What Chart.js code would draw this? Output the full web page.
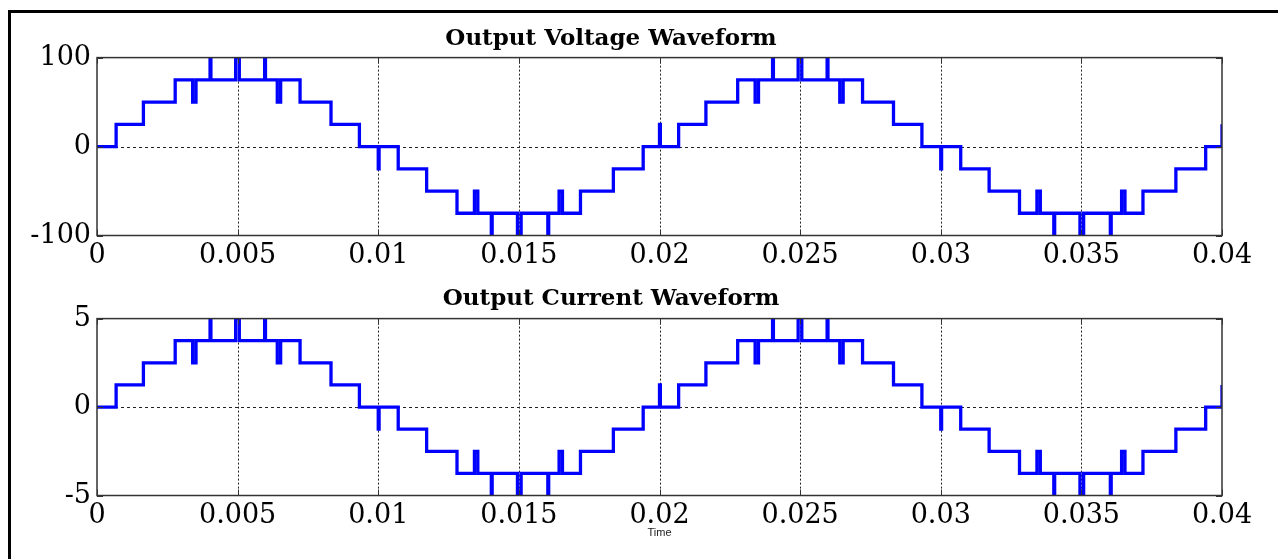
<!DOCTYPE html>
<html>
<head>
<meta charset="utf-8">
<script src="https://cdn.jsdelivr.net/npm/chart.js@4.4.1/dist/chart.umd.min.js"></script>
<style>
	html, body { margin: 0; padding: 0; background: #fff; }
	body { width: 1278px; height: 559px; position: relative; overflow: hidden; }
	#frame { position: absolute; left: 8px; top: 10px; width: 1300px; height: 600px;
		border-top: 3px solid #000; border-left: 3px solid #000; box-sizing: border-box; }
	#wrapV { position: absolute; left: 0; top: 0; }
	#wrapI { position: absolute; left: 0; top: 272px; }
</style>
</head>
<body>
<div id="frame"></div>
<div id="wrapV"><canvas id="voltagecanvas" width="1278" height="272"></canvas></div>
<div id="wrapI"><canvas id="currentcanvas" width="1278" height="287"></canvas></div>
<script>
// switching instants (s) of the staircase, two periods
var timeS = [
	0, 0.00068, 0.00165, 0.00278, 0.00340, 0.00352, 0.00402, 0.00405, 0.00493, 0.00506,
	0.00596, 0.00599, 0.00641, 0.00653, 0.00722, 0.00832, 0.00933, 0.01000, 0.01003,
	0.01071, 0.01172, 0.01280, 0.01342, 0.01354, 0.01402, 0.01405, 0.01495, 0.01508,
	0.01603, 0.01606, 0.01643, 0.01655, 0.01719, 0.01836, 0.01942, 0.02000, 0.02003,
	0.02068, 0.02165, 0.02278, 0.02340, 0.02352, 0.02402, 0.02405, 0.02493, 0.02506,
	0.02596, 0.02599, 0.02641, 0.02653, 0.02722, 0.02832, 0.02933, 0.03000, 0.03003,
	0.03071, 0.03172, 0.03280, 0.03342, 0.03354, 0.03402, 0.03405, 0.03495, 0.03508,
	0.03603, 0.03606, 0.03643, 0.03655, 0.03719, 0.03836, 0.03942, 0.04000
];

// level reached at each instant
var voltageV = [
	0, 25, 50, 75, 50, 75, 100, 75, 100, 75,
	100, 75, 50, 75, 50, 25, 0, -25, 0,
	-25, -50, -75, -50, -75, -100, -75, -100, -75,
	-100, -75, -50, -75, -50, -25, 0, 25, 0,
	25, 50, 75, 50, 75, 100, 75, 100, 75,
	100, 75, 50, 75, 50, 25, 0, -25, 0,
	-25, -50, -75, -50, -75, -100, -75, -100, -75,
	-100, -75, -50, -75, -50, -25, 0, 25
];

var currentA = [
	0, 1.25, 2.5, 3.75, 2.5, 3.75, 5, 3.75, 5, 3.75,
	5, 3.75, 2.5, 3.75, 2.5, 1.25, 0, -1.25, 0,
	-1.25, -2.5, -3.75, -2.5, -3.75, -5, -3.75, -5, -3.75,
	-5, -3.75, -2.5, -3.75, -2.5, -1.25, 0, 1.25, 0,
	1.25, 2.5, 3.75, 2.5, 3.75, 5, 3.75, 5, 3.75,
	5, 3.75, 2.5, 3.75, 2.5, 1.25, 0, -1.25, 0,
	-1.25, -2.5, -3.75, -2.5, -3.75, -5, -3.75, -5, -3.75,
	-5, -3.75, -2.5, -3.75, -2.5, -1.25, 0, 1.25
];

var xTicks = [0, 0.005, 0.01, 0.015, 0.02, 0.025, 0.03, 0.035, 0.04];
var xTickLabels = ['0', '0.005', '0.01', '0.015', '0.02', '0.025', '0.03', '0.035', '0.04'];
var voltTicks = [-100, 0, 100];
var voltTickLabels = ['-100', '0', '100'];
var currTicks = [-5, 0, 5];
var currTickLabels = ['-5', '0', '5'];

var tickFont = { family: 'DejaVu Serif', size: 27 };

// dotted grid under the trace, box and inner tick marks over it
var matlabAxes = {
	id: 'matlabAxes',
	beforeDatasetsDraw: function (chart) {
		var ctx = chart.ctx, a = chart.chartArea,
			xs = chart.scales.x, ys = chart.scales.y;
		ctx.save();
		ctx.strokeStyle = '#222';
		ctx.lineWidth = 1;
		ctx.setLineDash([2, 2]);
		xs.ticks.forEach(function (t, i) {
			if (i === 0 || i === xs.ticks.length - 1) return;
			var px = Math.round(xs.getPixelForValue(t.value)) + 0.5;
			ctx.beginPath();
			ctx.moveTo(px, a.top);
			ctx.lineTo(px, a.bottom);
			ctx.stroke();
		});
		ctx.setLineDash([3, 3]);
		var py = Math.round(ys.getPixelForValue(0)) + 0.5;
		ctx.beginPath();
		ctx.moveTo(a.left, py);
		ctx.lineTo(a.right, py);
		ctx.stroke();
		ctx.restore();
	},
	afterDatasetsDraw: function (chart) {
		var ctx = chart.ctx, a = chart.chartArea,
			xs = chart.scales.x, ys = chart.scales.y;
		ctx.save();
		ctx.strokeStyle = '#333';
		ctx.lineWidth = 1.5;
		ctx.strokeRect(a.left, a.top, a.right - a.left, a.bottom - a.top);
		ctx.lineWidth = 1;
		xs.ticks.forEach(function (t) {
			var px = Math.round(xs.getPixelForValue(t.value)) + 0.5;
			ctx.beginPath();
			ctx.moveTo(px, a.bottom); ctx.lineTo(px, a.bottom - 6);
			ctx.moveTo(px, a.top); ctx.lineTo(px, a.top + 6);
			ctx.stroke();
		});
		ys.ticks.forEach(function (t) {
			var py = Math.round(ys.getPixelForValue(t.value)) + 0.5;
			ctx.beginPath();
			ctx.moveTo(a.left, py); ctx.lineTo(a.left + 6, py);
			ctx.moveTo(a.right, py); ctx.lineTo(a.right - 6, py);
			ctx.stroke();
		});
		ctx.restore();
	}
};

function makeChart(canvasId, title, levels, yTicks, yTickLabels, cfg) {
	var points = timeS.map(function (t, i) { return { x: t, y: levels[i] }; });

	return new Chart(document.getElementById(canvasId), {
		type: 'line',
		data: {
			datasets: [{
				data: points,
				stepped: true,
				borderColor: '#0000ff',
				borderWidth: 3.3,
				pointRadius: 0,
				fill: false,
				borderJoinStyle: 'miter',
				borderCapStyle: 'butt'
			}]
		},
		options: {
			responsive: false,
			animation: false,
			devicePixelRatio: 1,
			layout: { padding: { left: 0, right: 56, top: 0, bottom: 0 } },
			plugins: {
				legend: { display: false },
				tooltip: { enabled: false },
				title: {
					display: true,
					text: title,
					color: '#000',
					font: { family: 'DejaVu Serif', size: 23, weight: 'bold' },
					padding: { top: cfg.titleTop, bottom: cfg.titleBottom }
				}
			},
			scales: {
				x: {
					type: 'linear',
					min: 0,
					max: 0.04,
					afterBuildTicks: function (s) {
						s.ticks = xTicks.map(function (v) { return { value: v }; });
					},
					afterFit: function (s) { s.height = cfg.xHeight; },
					ticks: {
						autoSkip: false,
						maxRotation: 0,
						padding: 4,
						color: '#000',
						font: tickFont,
						callback: function (v, i) { return xTickLabels[i]; }
					},
					grid: { display: false, drawTicks: false },
					border: { display: false },
					title: {
						display: cfg.timeLabel,
						text: 'Time',
						color: '#222',
						font: { family: 'Liberation Sans', size: 11 },
						padding: { top: 0, bottom: 19 }
					}
				},
				y: {
					type: 'linear',
					min: yTicks[0],
					max: yTicks[yTicks.length - 1],
					afterBuildTicks: function (s) {
						s.ticks = yTicks.map(function (v) { return { value: v }; });
					},
					afterFit: function (s) { s.width = 97; },
					ticks: {
						padding: 6,
						color: '#000',
						font: tickFont,
						callback: function (v, i) { return yTickLabels[i]; }
					},
					grid: { display: false, drawTicks: false },
					border: { display: false }
				}
			}
		},
		plugins: [matlabAxes]
	});
}

makeChart('voltagecanvas', 'Output Voltage Waveform', voltageV, voltTicks, voltTickLabels,
	{ titleTop: 25, titleBottom: 5, xHeight: 36.5, timeLabel: false });
makeChart('currentcanvas', 'Output Current Waveform', currentA, currTicks, currTickLabels,
	{ titleTop: 13, titleBottom: 6, xHeight: 63.5, timeLabel: true });
</script>
</body>
</html>
